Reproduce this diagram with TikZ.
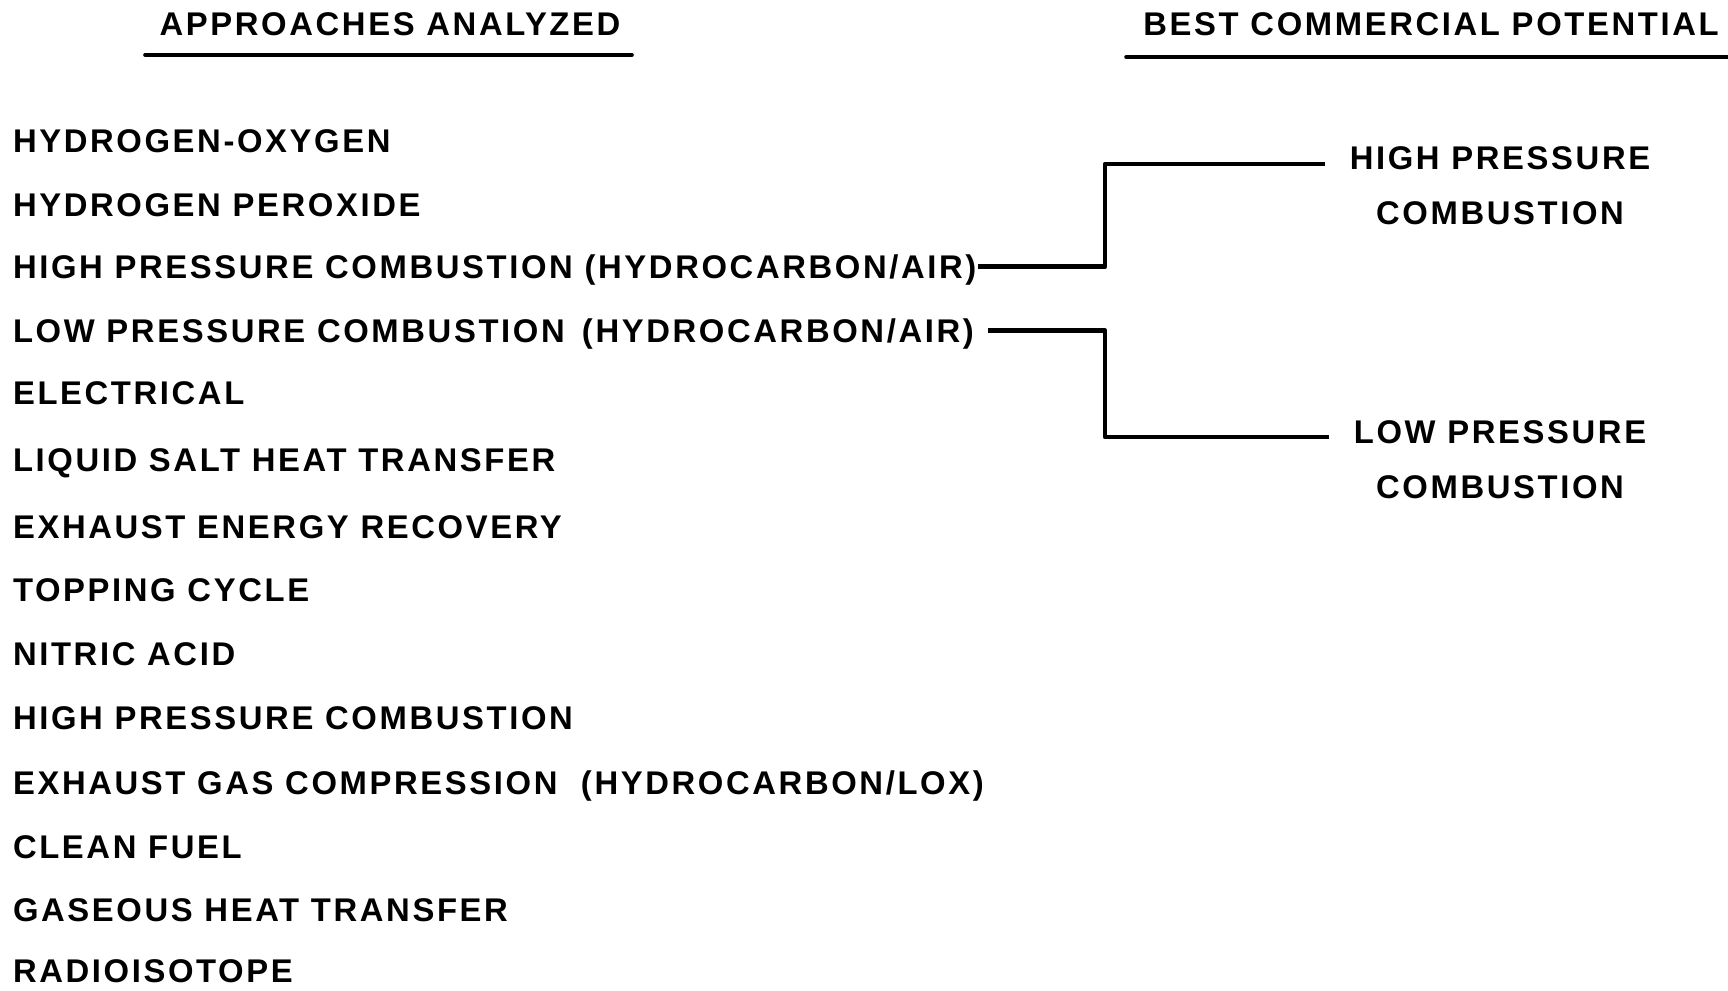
\documentclass[tikz,border=0pt]{standalone}
\usepackage{fontspec}
\setmainfont{Liberation Sans}[LetterSpace=8]
\tikzset{
  item/.style={anchor=west, inner sep=0pt, outer sep=0pt, text height=11.7pt, text depth=0pt},
  head/.style={anchor=base, inner sep=0pt},
  best/.style={align=center, anchor=north, inner sep=0pt},
  rule/.style={line width=1.8pt, line cap=round},
  link/.style={line width=2.3pt, line join=round},
}
\begin{document}
\begin{tikzpicture}[x=0.5pt, y=-0.5pt, font=\fontsize{16.4}{27.5}\selectfont\bfseries]
  \useasboundingbox (0,0) rectangle (1728,990);
  \node[head] (approaches) at (390,36) {APPROACHES ANALYZED};
  \node[head] (potential) at (1431,36) {BEST COMMERCIAL POTENTIAL};
  \draw[rule] (145,55) -- (632,55);
  \draw[rule] (1126,57) -- (1728,57);
  \matrix (list) [anchor=north west, inner sep=0pt, outer sep=0pt, row sep=20.3pt, nodes={item}] at (13,129)
  {
    \node (hox) {HYDROGEN-OXYGEN}; \\
    \node (hpe) {HYDROGEN PEROXIDE}; \\[-1pt]
    \node (hpc) {HIGH PRESSURE COMBUSTION (HYDROCARBON/AIR)}; \\
    \node (lpc) {LOW PRESSURE COMBUSTION \,(HYDROCARBON/AIR)}; \\[-1pt]
    \node (ele) {ELECTRICAL}; \\[1.5pt]
    \node (lsh) {LIQUID SALT HEAT TRANSFER}; \\[1.5pt]
    \node (eer) {EXHAUST ENERGY RECOVERY}; \\[-0.5pt]
    \node (topc) {TOPPING CYCLE}; \\
    \node (nit) {NITRIC ACID}; \\
    \node (hpx) {HIGH PRESSURE COMBUSTION}; \\[0.5pt]
    \node (egc) {EXHAUST GAS COMPRESSION \ (HYDROCARBON/LOX)}; \\
    \node (clf) {CLEAN FUEL}; \\[-0.5pt]
    \node (ght) {GASEOUS HEAT TRANSFER}; \\[-1.5pt]
    \node (rad) {RADIOISOTOPE}; \\
  };
  \node[best] (hi) at (1500,146) {HIGH PRESSURE\\COMBUSTION};
  \node[best] (lo) at (1500,420) {LOW PRESSURE\\COMBUSTION};
  \coordinate (fork) at (1105,0);
  \draw[link] ([xshift=1pt]hpc.east) -- (hpc.east -| fork) |- ([shift={(-24,18)}]hi.north west);
  \draw[link] ([xshift=7pt]lpc.east) -- (lpc.east -| fork) |- ([shift={(-24,17)}]lo.north west);
\end{tikzpicture}
\end{document}
